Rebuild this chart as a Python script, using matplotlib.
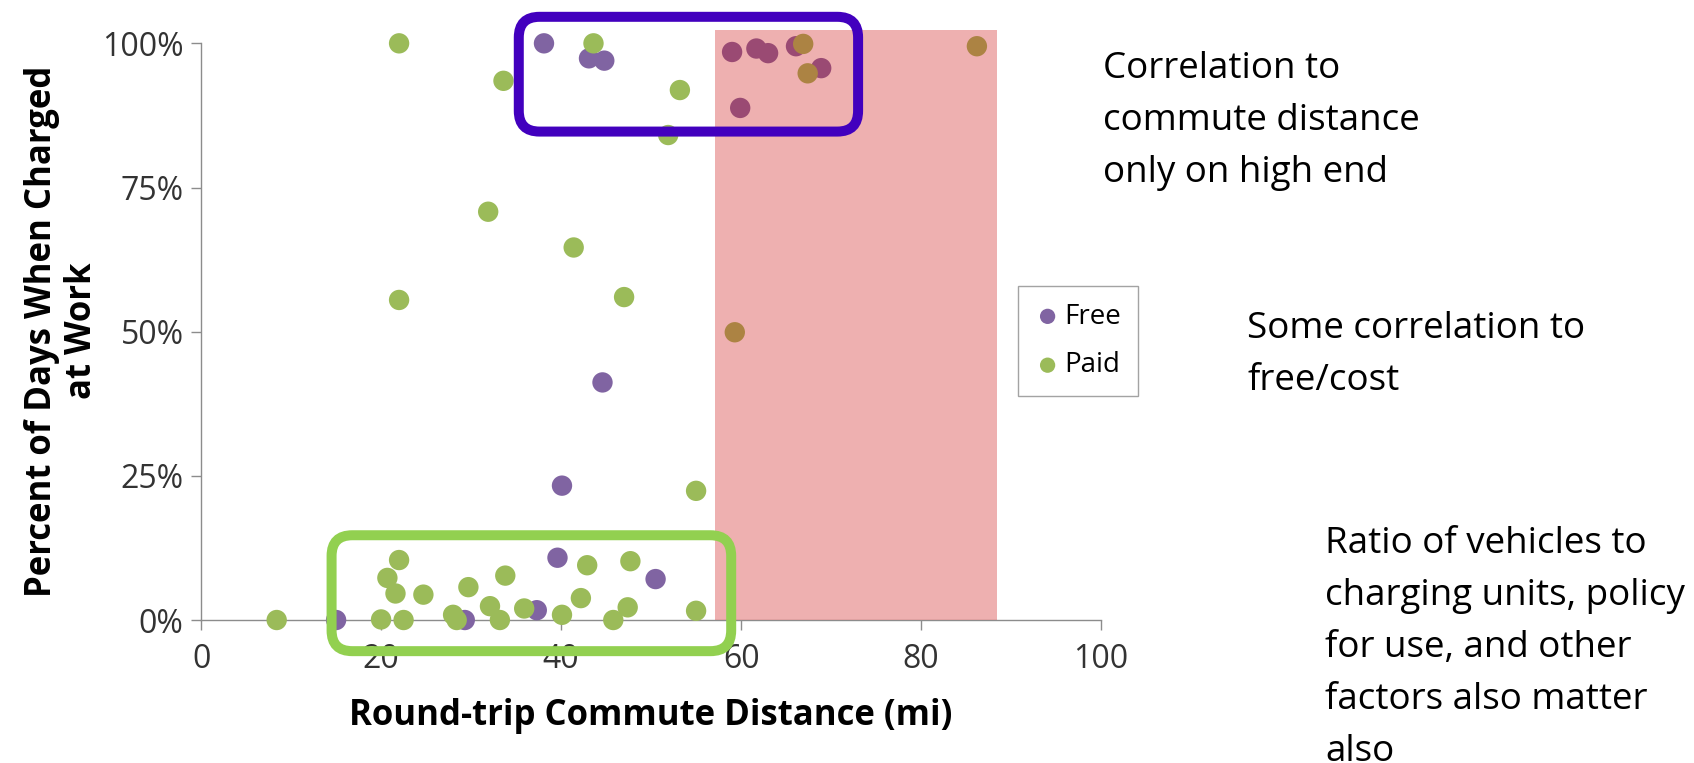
import matplotlib
matplotlib.use("Agg")
import matplotlib.pyplot as plt
from matplotlib.patches import FancyBboxPatch, Rectangle
from matplotlib.ticker import PercentFormatter

# -- Data ---------------------------------------------------------------------
free_distance = [38.1, 43.1, 44.8, 59.0, 61.7, 63.0, 66.1, 68.9,
                 59.9, 44.6, 40.1, 39.6, 50.5, 15.0, 29.3, 37.3]
free_share = [1.0, 0.974, 0.970, 0.985, 0.991, 0.983, 0.995, 0.957,
              0.888, 0.412, 0.233, 0.108, 0.071, 0.0, 0.0, 0.017]

paid_distance = [22.0, 33.6, 43.6, 53.2, 51.9, 66.9, 67.4, 86.2, 31.9, 41.4,
                 22.0, 47.0, 59.3, 55.0, 55.0, 47.7, 47.4, 8.4, 20.0, 22.0,
                 20.7, 21.6, 22.5, 24.7, 28.0, 28.4, 29.7, 32.1, 33.2, 33.8,
                 35.9, 40.1, 42.2, 42.9, 45.8]
paid_share = [1.0, 0.935, 1.0, 0.919, 0.841, 0.999, 0.948, 0.995, 0.708, 0.646,
              0.555, 0.560, 0.499, 0.224, 0.016, 0.102, 0.022, 0.0, 0.001, 0.104,
              0.073, 0.046, 0.0, 0.044, 0.009, 0.0, 0.057, 0.024, 0.0, 0.077,
              0.020, 0.009, 0.038, 0.095, 0.0]

x_ticks = [0, 20, 40, 60, 80, 100]
y_ticks = [0, 0.25, 0.5, 0.75, 1.0]

# -- Highlight regions (x range, y range) --------------------------------------
_HIGH_END = (57.1, 88.4, 0.0, 1.023)
_TOP_BOX = (35.3, 73.0, 0.847, 1.046)
_BOTTOM_BOX = (14.5, 58.9, -0.054, 0.147)

# -- Style --------------------------------------------------------------------
_W, _H, _DPI = 16.94, 7.63, 100
_AX_RECT = [0.1187, 0.1874, 0.5313, 0.7558]
_COLOR_FREE = "#8064A2"
_COLOR_PAID = "#9BBB59"
_COLOR_AXIS = "#8C8C8C"
_COLOR_OVERLAY = "#CE1B1B"
_COLOR_TOP_BOX = "#4200BE"
_COLOR_BOTTOM_BOX = "#92D050"
_MARKER_S = 215
_FS_TICK = 23
_FS_LABEL = 25
_FS_LEGEND = 20
_FS_NOTE = 26.5
_NOTE_LINE_PX = 52

plt.rcParams["font.family"] = ["Open Sans", "DejaVu Sans"]

fig = plt.figure(figsize=(_W, _H), dpi=_DPI)
ax = fig.add_axes(_AX_RECT)

ax.scatter(free_distance, free_share, s=_MARKER_S, color=_COLOR_FREE,
           edgecolors="none", label="Free", zorder=3, clip_on=False)
ax.scatter(paid_distance, paid_share, s=_MARKER_S, color=_COLOR_PAID,
           edgecolors="none", label="Paid", zorder=4, clip_on=False)

# Translucent red band over the long-commute points
x0, x1, y0, y1 = _HIGH_END
ax.add_patch(Rectangle((x0, y0), x1 - x0, y1 - y0, facecolor=_COLOR_OVERLAY,
                       alpha=0.346, linewidth=0, zorder=5, clip_on=False))

ax.set_xlim(0, 100)
ax.set_ylim(0, 1)

# Rounded outline boxes (aspect corrected so corners stay circular)
ax_w_px = _AX_RECT[2] * _W * _DPI
ax_h_px = _AX_RECT[3] * _H * _DPI
aspect = (1.0 / ax_h_px) / (100.0 / ax_w_px)
for (bx0, bx1, by0, by1), col in [(_TOP_BOX, _COLOR_TOP_BOX),
                                  (_BOTTOM_BOX, _COLOR_BOTTOM_BOX)]:
    ax.add_patch(FancyBboxPatch((bx0, by0), bx1 - bx0, by1 - by0,
                                boxstyle="round,pad=0,rounding_size=2.3",
                                mutation_aspect=aspect, facecolor="none",
                                edgecolor=col, linewidth=7.2, zorder=6,
                                clip_on=False))

ax.set_xticks(x_ticks)
ax.set_yticks(y_ticks)
ax.yaxis.set_major_formatter(PercentFormatter(1.0, decimals=0))
ax.tick_params(axis="both", direction="out", length=7.5, width=1.0,
               color=_COLOR_AXIS, labelsize=_FS_TICK, labelcolor="#333333")
ax.tick_params(axis="x", pad=9)
ax.tick_params(axis="y", pad=5)
for spine in ("top", "right"):
    ax.spines[spine].set_visible(False)
for spine in ("left", "bottom"):
    ax.spines[spine].set_color(_COLOR_AXIS)
    ax.spines[spine].set_linewidth(1.0)

leg = ax.legend(loc="center", bbox_to_anchor=(0.6364, 0.553),
                bbox_transform=fig.transFigure, fontsize=_FS_LEGEND,
                frameon=True, fancybox=False, markerscale=0.75,
                handlelength=0.9, handletextpad=0.15, borderpad=0.6,
                labelspacing=0.75, scatterpoints=1)
leg.get_frame().set_edgecolor(_COLOR_AXIS)
leg.get_frame().set_linewidth(1.0)

# Axis titles
fig.text(0.0366, 0.566, "Percent of Days When Charged\nat Work", rotation=90,
         ha="center", va="center", multialignment="center",
         fontsize=_FS_LABEL, fontweight="bold", linespacing=1.15)
fig.text(0.3843, 0.0616, "Round-trip Commute Distance (mi)", ha="center",
         va="center", fontsize=25, fontweight="bold")

# Side notes: (left px, first-line baseline px, text)
notes = [
    (1103, 78, "Correlation to\ncommute distance\nonly on high end"),
    (1247, 338, "Some correlation to\nfree/cost"),
    (1325, 553, "Ratio of vehicles to\ncharging units, policy\nfor use, and other\nfactors also matter\nalso"),
]
for px, py, txt in notes:
    lines = txt.split("\n")
    for i, line in enumerate(lines):
        fig.text(px / (_W * _DPI), 1 - (py + i * _NOTE_LINE_PX) / (_H * _DPI),
                 line, ha="left", va="baseline", fontsize=_FS_NOTE,
                 color="black")

fig.savefig("out.png", dpi=_DPI)
